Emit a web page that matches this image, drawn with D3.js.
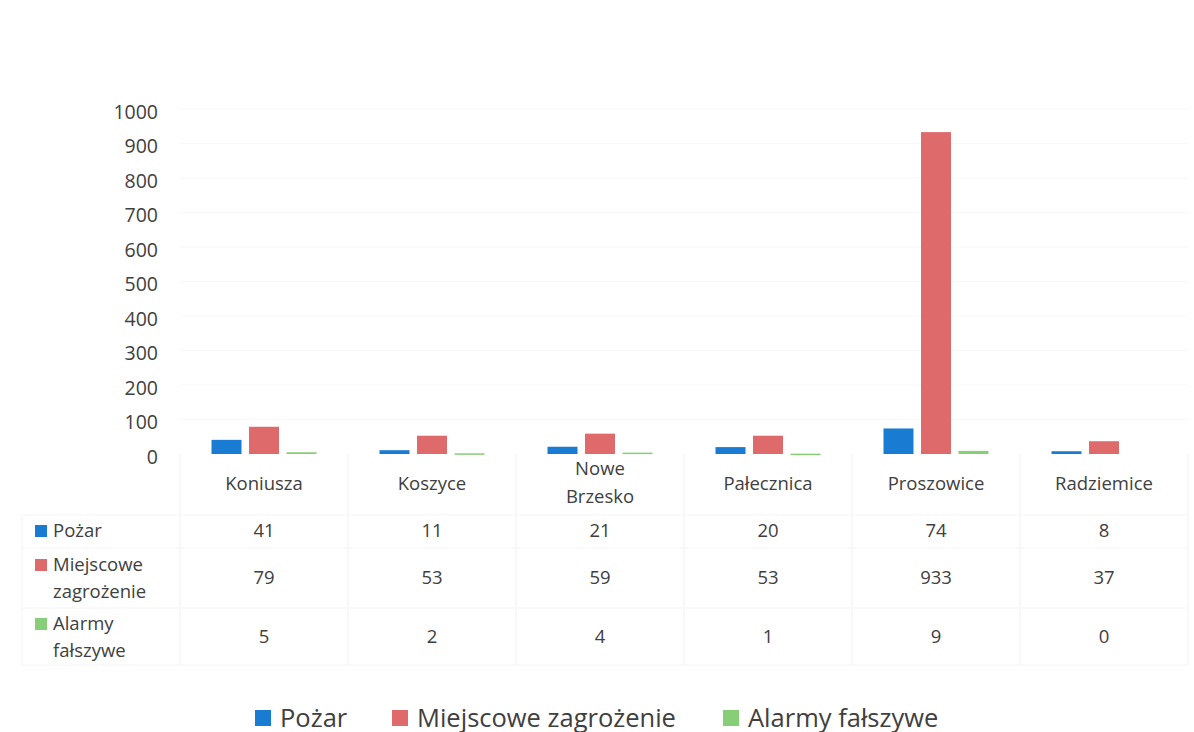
<!DOCTYPE html>
<html>
<head>
<meta charset="utf-8">
<script src="https://cdn.jsdelivr.net/npm/d3@7"></script>
<style>
  body { margin: 0; background: #fff; }
  text { font-family: "Open Sans", sans-serif; fill: #404040; }
</style>
</head>
<body>
<div id="chart"></div>
<script>
// data
const categories = ["Koniusza", "Koszyce", "Nowe Brzesko", "Pałecznica", "Proszowice", "Radziemice"];
const seriesNames = ["Pożar", "Miejscowe zagrożenie", "Alarmy fałszywe"];
const pozar = [41, 11, 21, 20, 74, 8];
const miejscowe = [79, 53, 59, 53, 933, 37];
const alarmy = [5, 2, 4, 1, 9, 0];
const yTicks = [0, 100, 200, 300, 400, 500, 600, 700, 800, 900, 1000];

const seriesValues = [pozar, miejscowe, alarmy];
const colors = ["#1a7bd3", "#df6a6c", "#86cf76"];
// labels as they wrap in the table cells
const catLines = { "Nowe Brzesko": ["Nowe", "Brzesko"] };
const rowLines = [["Pożar"], ["Miejscowe", "zagrożenie"], ["Alarmy", "fałszywe"]];

/** CONSTANTS */
const width = 1194,
    height = 732,
    margin = { left: 180, right: 6 },
    baseY = 454,
    topY = 109;

/** SCALES */
const x0 = d3.scaleBand()
    .domain(categories)
    .range([margin.left, width - margin.right])
    .padding(0);

const x1 = d3.scaleBand()
    .domain(seriesNames)
    .range([0, x0.bandwidth()])
    .paddingInner(0.2)
    .paddingOuter(0.84);

const y = d3.scaleLinear()
    .domain([0, 1000])
    .range([baseY, topY]);

/** MAIN CODE */
const svg = d3.select("#chart")
    .append("svg")
    .attr("width", width)
    .attr("height", height);

// gridlines, almost washed out in the scan
svg.append("g")
    .selectAll("line")
    .data(yTicks.slice(1))
    .join("line")
    .attr("x1", margin.left)
    .attr("x2", width - margin.right)
    .attr("y1", d => y(d))
    .attr("y2", d => y(d))
    .attr("stroke", "#f8f8f8")
    .attr("stroke-width", 1);

// y axis labels
const yAxis = d3.axisLeft(y)
    .tickValues(yTicks)
    .tickFormat(d3.format("d"))
    .tickSize(0)
    .tickPadding(0);

svg.append("g")
    .attr("transform", "translate(158,3)")
    .call(yAxis)
    .call(g => g.select(".domain").remove())
    .selectAll("text")
    .style("font-size", "19.5px")
    .style("font-family", "'Open Sans', sans-serif")
    .attr("fill", "#404040");

// bars
const groups = svg.append("g")
    .selectAll("g")
    .data(categories)
    .join("g")
    .attr("transform", d => `translate(${x0(d)},0)`);

groups.selectAll("rect")
    .data((c, ci) => seriesNames.map((s, si) => ({ s, si, v: seriesValues[si][ci] })))
    .join("rect")
    .attr("x", d => x1(d.s))
    .attr("width", x1.bandwidth())
    .attr("y", d => y(d.v))
    .attr("height", d => Math.max(baseY - y(d.v), d.v > 0 ? 1.5 : 0))
    .attr("fill", d => colors[d.si]);

// data table lines
const tableTop = baseY,
    tableBottom = 665,
    rowY = [515, 548, 608, tableBottom];

svg.append("g")
    .selectAll("line")
    .data(categories.map(c => x0(c)).concat([width - margin.right]))
    .join("line")
    .attr("x1", d => d).attr("x2", d => d)
    .attr("y1", tableTop).attr("y2", tableBottom)
    .attr("stroke", "#f1f1f1");

svg.append("g")
    .selectAll("line")
    .data(rowY)
    .join("line")
    .attr("x1", 22).attr("x2", width - margin.right)
    .attr("y1", d => d).attr("y2", d => d)
    .attr("stroke", "#f4f4f4");

svg.append("line")
    .attr("x1", 22).attr("x2", 22)
    .attr("y1", 515).attr("y2", tableBottom)
    .attr("stroke", "#f4f4f4");

// category labels
svg.append("g")
    .selectAll("text")
    .data(categories)
    .join("text")
    .attr("x", d => x0(d) + x0.bandwidth() / 2)
    .attr("y", d => catLines[d] ? 475 : 490)
    .attr("text-anchor", "middle")
    .style("font-size", "18.5px")
    .each(function (d) {
        const lines = catLines[d] || [d];
        d3.select(this).selectAll("tspan")
            .data(lines)
            .join("tspan")
            .attr("x", x0(d) + x0.bandwidth() / 2)
            .attr("dy", (l, i) => i ? 28 : 0)
            .text(l => l);
    });

// table rows
const rowCenters = [531, 578, 637];

const rows = svg.append("g")
    .selectAll("g")
    .data(seriesNames)
    .join("g");

rows.append("rect")
    .attr("x", 35)
    .attr("y", (d, i) => rowCenters[i] - (rowLines[i].length > 1 ? 19 : 6))
    .attr("width", 12)
    .attr("height", 12)
    .attr("fill", (d, i) => colors[i]);

rows.append("text")
    .attr("x", 53)
    .attr("y", (d, i) => rowCenters[i] + (rowLines[i].length > 1 ? -7 : 6))
    .style("font-size", "18.5px")
    .each(function (d, i) {
        d3.select(this).selectAll("tspan")
            .data(rowLines[i])
            .join("tspan")
            .attr("x", 53)
            .attr("dy", (l, j) => j ? 27 : 0)
            .text(l => l);
    });

rows.selectAll("text.val")
    .data((d, i) => seriesValues[i].map((v, ci) => ({ v, c: categories[ci], r: i })))
    .join("text")
    .attr("class", "val")
    .attr("x", d => x0(d.c) + x0.bandwidth() / 2)
    .attr("y", d => rowCenters[d.r] + 6)
    .attr("text-anchor", "middle")
    .style("font-size", "18.5px")
    .text(d => d.v);

// bottom legend
const legendX = [255, 392, 723];
const legend = svg.append("g")
    .selectAll("g")
    .data(seriesNames)
    .join("g")
    .attr("transform", (d, i) => `translate(${legendX[i]},710)`);

legend.append("rect")
    .attr("width", 16)
    .attr("height", 16)
    .attr("fill", (d, i) => colors[i]);

legend.append("text")
    .attr("x", 25)
    .attr("y", 16.5)
    .style("font-size", "25.5px")
    .text(d => d);
</script>
</body>
</html>
